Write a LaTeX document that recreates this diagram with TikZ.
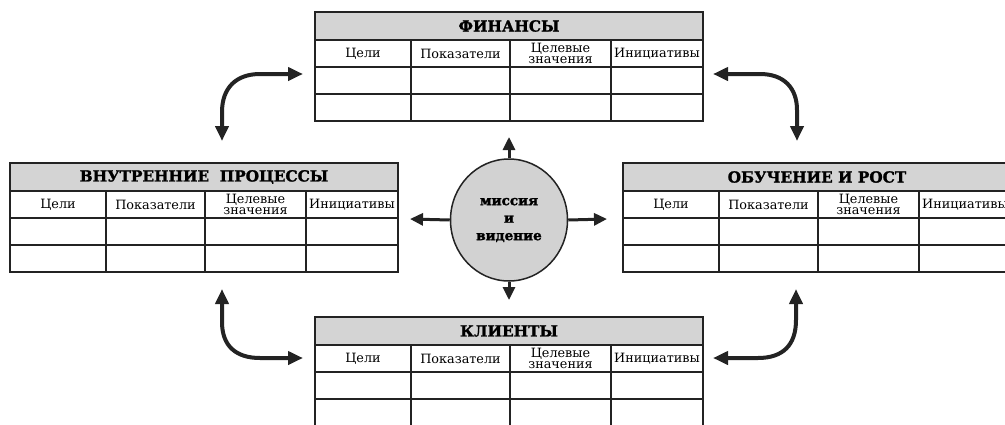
\documentclass[tikz,border=0pt]{standalone}
\usepackage{fontspec}
\setmainfont{DejaVu Serif}
\newfontfamily\heavyfont[FakeBold=1.5]{DejaVu Serif Bold}
\newfontfamily\hubfont[FakeBold=1.8]{DejaVu Serif Bold}
\usetikzlibrary{arrows.meta,shapes.geometric}
\definecolor{hdrgray}{RGB}{212,212,212}
\definecolor{circgray}{RGB}{210,210,210}
\definecolor{ink}{RGB}{35,35,35}
\tikzset{
  tblline/.style={line width=2.2pt, draw=ink},
  hdrtext/.style={font=\heavyfont\fontsize{15.3}{15}\selectfont, inner sep=0pt},
  coltext/.style={font=\fontsize{12.8}{11}\selectfont, align=center, inner sep=0pt},
  bigarrow/.style={line width=4pt, draw=ink, {Triangle[width=13pt,length=15pt]}-{Triangle[width=13pt,length=15pt]}},
  hubarrow/.style={line width=3pt, draw=ink, -{Triangle[width=12pt,length=13pt]}},
  hub/.style={ellipse, draw=ink, line width=1.5pt, fill=circgray, minimum width=117pt, minimum height=122pt, inner sep=0pt,
    align=center, font=\hubfont\fontsize{13.5}{17.5}\selectfont}
}
\newcommand\bsctab[4]{%
  \node[anchor=north west, minimum width=388pt, minimum height=109pt, inner sep=0pt, outer sep=0pt] (#1) at (#2,#3) {};
  \fill[hdrgray] (#1.north west) rectangle ([yshift=-28pt]#1.north east);
  \foreach \dy in {28,55,82}{\draw[tblline] ([yshift=-\dy pt]#1.north west) -- ([yshift=-\dy pt]#1.north east);}
  \foreach \dx in {96,195,296}{\draw[tblline] ([xshift=\dx pt,yshift=-28pt]#1.north west) -- ([xshift=\dx pt]#1.south west);}
  \draw[tblline] (#1.north west) rectangle (#1.south east);
  \node[hdrtext] (#1-t) at ([yshift=-14pt]#1.north) {#4};
  \node[coltext] (#1-c1) at ([xshift=48pt,yshift=-41.5pt]#1.north west) {Цели};
  \node[coltext] (#1-c2) at ([xshift=145.5pt,yshift=-41.5pt]#1.north west) {Показатели};
  \node[coltext] (#1-c3) at ([xshift=245.5pt,yshift=-41.5pt]#1.north west) {Целевые\\значения};
  \node[coltext] (#1-c4) at ([xshift=342pt,yshift=-41.5pt]#1.north west) {Инициативы};
}
\begin{document}
\begin{tikzpicture}[x=1pt,y=-1pt]
\useasboundingbox (0,0) rectangle (1005,424);
\clip (0,0) rectangle (1005,424);
\fill[white] (0,0) rectangle (1005,424);
\bsctab{fin}{315}{12}{ФИНАНСЫ}
\bsctab{proc}{10}{163}{ВНУТРЕННИЕ\ \ ПРОЦЕССЫ}
\bsctab{learn}{623}{163}{ОБУЧЕНИЕ И РОСТ}
\bsctab{cust}{315}{317}{КЛИЕНТЫ}
\node[hub] (hub) at (509,220) {миссия\\и\\видение};
\coordinate (hubN) at (509,137);
\coordinate (hubS) at (509,300);
\coordinate (hubW) at (410,219);
\coordinate (hubE) at (607,219);
\draw[hubarrow] (hub.north) -- (hubN);
\draw[hubarrow] (hub.south) -- (hubS);
\draw[hubarrow] (hub.west) -- (hubW);
\draw[hubarrow] (hub.east) -- (hubE);
% curved arrows
\coordinate (tlA) at (303,74);
\coordinate (tlB) at (222,141);
\coordinate (trA) at (713,74);
\coordinate (trB) at (797,141);
\coordinate (blA) at (222,289);
\coordinate (blB) at (303,358);
\coordinate (brA) at (713,358);
\coordinate (brB) at (796,289);
\draw[bigarrow] (tlB) -- (222,112) .. controls (222,88) and (236,74) .. (260,74) -- (tlA);
\draw[bigarrow] (trA) -- (760,74) .. controls (784,74) and (797,88) .. (797,110) -- (trB);
\draw[bigarrow] (blA) -- (222,322) .. controls (222,346) and (236,358) .. (260,358) -- (blB);
\draw[bigarrow] (brA) -- (758,358) .. controls (783,358) and (796,345) .. (796,320) -- (brB);
\end{tikzpicture}
\end{document}
